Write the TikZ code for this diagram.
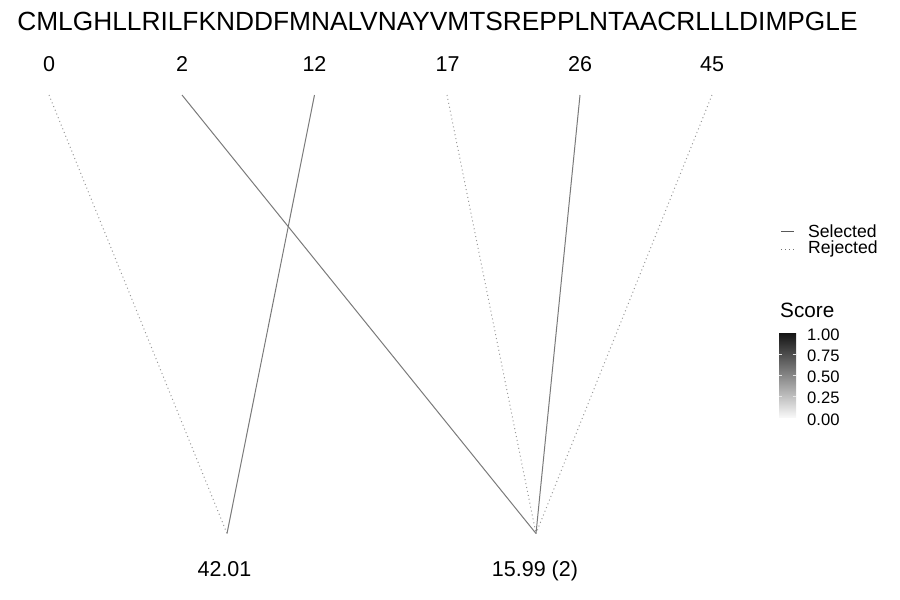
\documentclass[tikz,border=0pt]{standalone}
\usepackage{fontspec}
\setmainfont{Liberation Sans}

\begin{document}
\begin{tikzpicture}[
    x=1pt, y=-1pt,
    seqtext/.style={font=\fontsize{26.3}{26.3}\selectfont, anchor=base, inner sep=0pt},
    posnum/.style={font=\fontsize{21.5}{21.5}\selectfont, anchor=base, inner sep=0pt},
    scorenum/.style={font=\fontsize{21.5}{21.5}\selectfont, anchor=base, inner sep=0pt},
    legtext/.style={font=\fontsize{17.6}{17.6}\selectfont, anchor=base west, inner sep=0pt},
    ticktext/.style={font=\fontsize{16.6}{16.6}\selectfont, anchor=base west, inner sep=0pt},
    selected/.style={draw=black!52, line width=1pt},
    rejected/.style={draw=black!40, line width=1pt, dash pattern=on 1pt off 3pt}
]
\useasboundingbox (0,0) rectangle (900,600);

% Sequence
\node[seqtext] (seq) at (437.5,30.7) {CMLGHLLRILFKNDDFMNALVNAYVMTSREPPLNTAACRLLLDIMPGLE};

% Positions
\node[posnum] (n0) at (49,71.7) {0};
\node[posnum] (n2) at (182,71.7) {2};
\node[posnum] (n12) at (314.5,71.7) {12};
\node[posnum] (n17) at (447.5,71.7) {17};
\node[posnum] (n26) at (580,71.7) {26};
\node[posnum] (n45) at (712,71.7) {45};

\coordinate (p0) at (49,95);
\coordinate (p2) at (182,95);
\coordinate (p12) at (314.5,95);
\coordinate (p17) at (447,95);
\coordinate (p26) at (580,95);
\coordinate (p45) at (712,95);

% Scores
\coordinate (s1) at (227,533.5);
\coordinate (s2) at (536,533.5);
\node[scorenum] (l1) at (224.5,576.5) {42.01};
\node[scorenum] (l2) at (535,576.5) {15.99 (2)};

% Edges
\draw[rejected] (p0) -- (s1);
\draw[selected] (p12) -- (s1);
\draw[selected] (p2) -- (s2);
\draw[rejected] (p17) -- (s2);
\draw[selected] (p26) -- (s2);
\draw[rejected] (p45) -- (s2);

% Legend
\coordinate (k1a) at (781,231.5);
\coordinate (k1b) at (794,231.5);
\coordinate (k2a) at (781,249.5);
\coordinate (k2b) at (794,249.5);
\draw[selected, draw=black!65, line width=1.4pt] (k1a) -- (k1b);
\draw[rejected, draw=black!55, line width=1.2pt] (k2a) -- (k2b);
\node[legtext] (sel) at (808,237.3) {Selected};
\node[legtext] (rej) at (808,253.4) {Rejected};

% Colour bar
\node[legtext, font=\fontsize{20.7}{20.7}\selectfont] (bartitle) at (780,317.3) {Score};
\shade[top color=black!92, bottom color=gray!6] (779,333) rectangle (796,417);
\foreach \t in {354,375,396}
  \draw[white!80!gray, line width=0.5pt] (779,\t) -- (782.4,\t) (792.6,\t) -- (796,\t);
\node[ticktext] at (807,340) {1.00};
\node[ticktext] at (807,361.2) {0.75};
\node[ticktext] at (807,382.5) {0.50};
\node[ticktext] at (807,403.7) {0.25};
\node[ticktext] at (807,425) {0.00};
\end{tikzpicture}
\end{document}
